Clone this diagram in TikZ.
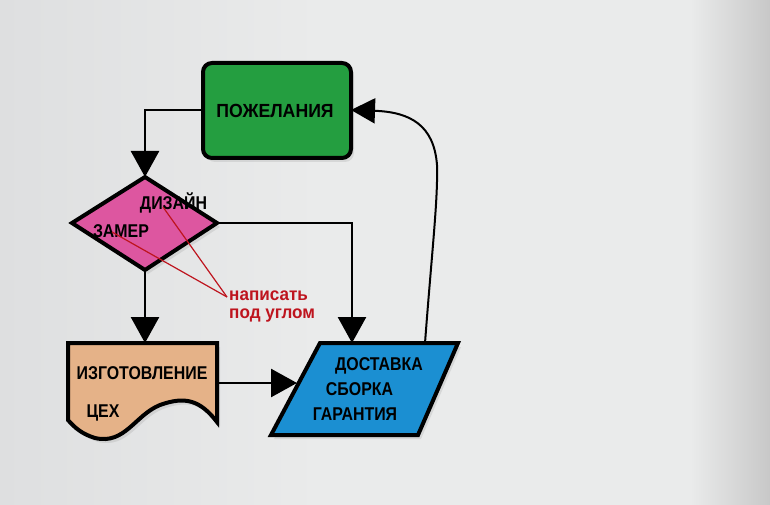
\documentclass[tikz,border=0pt]{standalone}
\usepackage{fontspec}
\setmainfont{Liberation Sans}
\newfontfamily\condfont[FakeStretch=0.86]{Liberation Sans}
\newfontfamily\headfont[FakeStretch=0.93]{Liberation Sans}
\newfontfamily\notefont[FakeStretch=0.95]{Liberation Sans}
\usetikzlibrary{arrows.meta,shapes.geometric,shadows}
\definecolor{bgc}{RGB}{234,235,235}
\definecolor{bgl}{RGB}{222,223,224}
\definecolor{bgr}{RGB}{200,200,200}
\definecolor{greenf}{RGB}{36,158,64}
\definecolor{pinkf}{RGB}{221,86,160}
\definecolor{tanf}{RGB}{229,178,136}
\definecolor{bluef}{RGB}{27,143,210}
\definecolor{redl}{RGB}{190,20,30}
\tikzset{
  shp/.style={draw=black, line width=4pt, line join=miter, drop shadow={shadow xshift=3pt, shadow yshift=-4pt, opacity=0.18}},
  conn/.style={draw=black, line width=2.6pt, -{Triangle[width=28pt,length=26pt]}},
  lbl/.style={font=\condfont\bfseries\fontsize{18.5}{18.5}\selectfont, inner sep=0pt, anchor=base},
  note/.style={draw=redl, line width=1.2pt},
  notetxt/.style={font=\notefont\bfseries\fontsize{18}{18}\selectfont, text=redl, inner sep=0pt, anchor=base west}
}
\begin{document}
\begin{tikzpicture}[x=1pt,y=-1pt]
\useasboundingbox (0,0) rectangle (770,505);
\fill[bgc] (0,0) rectangle (770,505);
\shade[left color=bgl, right color=bgc] (0,0) rectangle (320,505);
\shade[left color=bgc, right color=bgr] (690,0) rectangle (770,505);

% green box
\path[shp, fill=greenf, rounded corners=9pt] (203,63) rectangle (351,158);
\node[lbl, font=\headfont\bfseries\fontsize{19}{19}\selectfont] (wish) at (275,118) {ПОЖЕЛАНИЯ};
\coordinate (wishL) at (203,110);
\coordinate (wishR) at (351,110);

% diamond
\path[shp, fill=pinkf] (72,223) -- (145,177) -- (217,223) -- (145,270) -- cycle;
\coordinate (dT) at (145,177);
\coordinate (dR) at (217,223);
\coordinate (dB) at (145,270);
\node[lbl] (des) at (173.5,209) {ДИЗАЙН};
\node[lbl] (zam) at (121,237) {ЗАМЕР};

% document shape
\path[shp, fill=tanf] (68,343) -- (217,343) -- (217,422)
   .. controls (200,400) and (185,396) .. (160,405)
   .. controls (135,415) and (125,445) .. (95,438)
   .. controls (82,434) and (75,428) .. (68,420) -- cycle;
\coordinate (docT) at (145,343);
\coordinate (docR) at (217,383);
\node[lbl] (mk) at (142,379) {ИЗГОТОВЛЕНИЕ};
\node[lbl] (shop) at (103,417) {ЦЕХ};

% parallelogram
\path[shp, fill=bluef] (320,343) -- (458,343) -- (418,435) -- (271,435) -- cycle;
\coordinate (pT) at (352,343);
\coordinate (pL) at (297,383);
\coordinate (pTR) at (425,343);
\node[lbl] (dl) at (379,370) {ДОСТАВКА};
\node[lbl] (sb) at (359.5,395) {СБОРКА};
\node[lbl] (gr) at (355,420) {ГАРАНТИЯ};

% connectors
\draw[conn] (wishL) -- (145,110) -- (dT);
\draw[conn] (dB) -- (docT);
\draw[conn] (dR) -- (352,223) -- (pT);
\draw[conn] (docR) -- (pL);
\draw[draw=black, line width=2pt, -{Triangle[width=25pt,length=24pt]}]
  (pTR) .. controls (432,250) and (438,200) .. (437,165)
  .. controls (434,125) and (410,112) .. (wishR);

% red notes
\node[notetxt] (nt1) at (229,300) {написать};
\node[notetxt] (nt2) at (229,318) {под углом};
\coordinate (nj) at (227,297);
\draw[note] (163,207) -- (nj);
\draw[note] (112,232) -- (nj);
\end{tikzpicture}
\end{document}
